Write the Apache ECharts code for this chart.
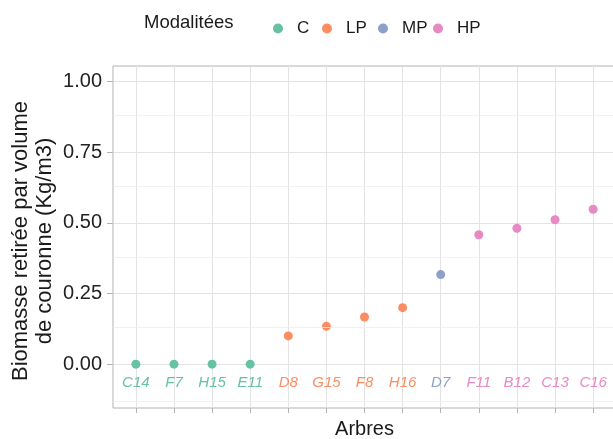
<!DOCTYPE html>
<html>
<head>
<meta charset="utf-8">
<script src="https://cdn.jsdelivr.net/npm/echarts@6/dist/echarts.min.js"></script>
<style>
  html, body { margin: 0; padding: 0; background: #fff; }
  #chart { width: 613px; height: 439px; }
</style>
</head>
<body>
<div id="chart"></div>
<script>
// Trees, their treatment group and the biomass removed per crown volume
const trees = ['C14', 'F7', 'H15', 'E11', 'D8', 'G15', 'F8', 'H16', 'D7', 'F11', 'B12', 'C13', 'C16'];
const treeGroup = ['C', 'C', 'C', 'C', 'LP', 'LP', 'LP', 'LP', 'MP', 'HP', 'HP', 'HP', 'HP'];
const biomass = [0, 0, 0, 0, 0.100, 0.134, 0.167, 0.200, 0.317, 0.458, 0.481, 0.511, 0.548];

// Legend groups and their colours
const groups = ['C', 'LP', 'MP', 'HP'];
const groupColors = ['#66C2A5', '#FC8D62', '#8DA0CB', '#E78AC3'];

// Axis breaks
const yTicks = [0, 0.25, 0.5, 0.75, 1];
const yMinorBreaks = [-0.125, 0.125, 0.375, 0.625, 0.875];

const FONT = "'Liberation Sans', Arial, sans-serif";
const GRID_MAJOR = '#E3E3E3';
const GRID_MINOR = '#EFEFEF';
const BORDER = '#B3B3B3';
const legendLeft = [268, 317, 373, 428];

const treeIdx = trees.map((_, i) => i);

const rich = {};
groups.forEach((g, i) => {
  rich['g' + i] = { color: groupColors[i], fontStyle: 'italic', fontSize: 15, fontFamily: FONT };
});

const series = groups.map((g, gi) => ({
  name: g,
  type: 'scatter',
  symbol: 'circle',
  symbolSize: 9,
  itemStyle: { color: groupColors[gi], opacity: 1 },
  data: treeIdx.filter(i => treeGroup[i] === g).map(i => [i, biomass[i]]),
  z: 3
}));

// Minor horizontal grid lines
series.unshift({
  name: 'minor-grid',
  type: 'scatter',
  data: [],
  silent: true,
  z: 1,
  markLine: {
    silent: true,
    symbol: 'none',
    animation: false,
    label: { show: false },
    lineStyle: { color: GRID_MINOR, width: 0.8, type: 'solid' },
    emphasis: { disabled: true },
    data: yMinorBreaks.map(v => ({ yAxis: v }))
  }
});

const legends = groups.map((g, i) => ({
  data: [g],
  left: legendLeft[i],
  top: 15,
  icon: 'circle',
  itemWidth: 10,
  itemHeight: 10,
  selectedMode: false,
  textStyle: { fontFamily: FONT, fontSize: 17, color: '#1A1A1A', padding: [0, 0, 0, 9] }
}));

const chart = echarts.init(document.getElementById('chart'), null, { renderer: 'canvas' });
chart.setOption({
  animation: false,
  backgroundColor: '#fff',
  legend: legends,
  graphic: [{
    type: 'text',
    left: 144,
    top: 13,
    style: { text: 'Modalitées', font: '18.5px ' + FONT, fill: '#1A1A1A' }
  }],
  grid: {
    left: 113, top: 66, width: 503, height: 342,
    show: true, borderColor: BORDER, borderWidth: 1,
    containLabel: false, outerBoundsMode: 'none'
  },
  xAxis: {
    type: 'value',
    min: -0.6,
    max: 12.6,
    axisLine: { show: false, onZero: false },
    axisTick: { show: true, inside: false, customValues: treeIdx, length: 5, lineStyle: { color: BORDER } },
    axisLabel: {
      customValues: treeIdx,
      inside: true,
      margin: 18,
      formatter: v => '{g' + groups.indexOf(treeGroup[v]) + '|' + trees[v] + '}',
      rich: rich
    },
    splitLine: { show: true, lineStyle: { color: GRID_MAJOR, width: 1 } },
    name: 'Arbres',
    nameLocation: 'middle',
    nameGap: 11,
    nameMoveOverlap: false,
    nameTextStyle: { fontFamily: FONT, fontSize: 20, color: '#1A1A1A', verticalAlign: 'top' }
  },
  yAxis: {
    type: 'value',
    min: -0.155,
    max: 1.055,
    axisLine: { show: false, onZero: false },
    axisTick: { show: true, inside: false, customValues: yTicks, length: 6, lineStyle: { color: BORDER } },
    axisLabel: {
      customValues: yTicks,
      margin: 11,
      formatter: v => v.toFixed(2),
      fontFamily: FONT, fontSize: 20, color: '#222'
    },
    splitLine: { show: true, lineStyle: { color: GRID_MAJOR, width: 1 } },
    name: 'Biomasse retirée par volume\nde couronne (Kg/m3)',
    nameLocation: 'middle',
    nameRotate: 90,
    nameGap: 56,
    nameMoveOverlap: false,
    nameTextStyle: {
      fontFamily: FONT, fontSize: 22, color: '#1A1A1A', lineHeight: 24, align: 'center',
      padding: [0, 8, 0, 0]
    }
  },
  series: series
});
</script>
</body>
</html>
